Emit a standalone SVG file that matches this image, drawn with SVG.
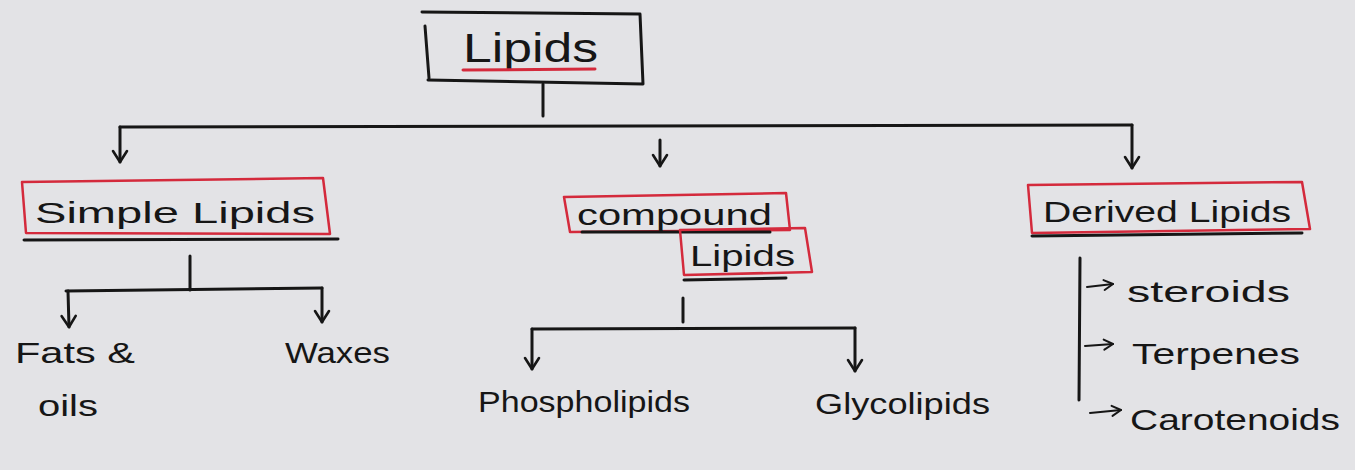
<svg xmlns="http://www.w3.org/2000/svg" width="1355" height="470" viewBox="0 0 1355 470">
<defs>
<style>
.bg{fill:#e3e3e6}
.t{font-family:"Liberation Sans","DejaVu Sans",sans-serif;fill:#161616;font-size:30px}
.big{font-size:40px}
.ink{fill:none;stroke:#161616;stroke-width:3;stroke-linecap:round;stroke-linejoin:round}
.thin{stroke-width:2}
.red{fill:none;stroke:#d42a3c;stroke-width:2.5;stroke-linejoin:round}
.redu{fill:none;stroke:#d42a3c;stroke-width:3;stroke-linecap:round}
</style>
<marker id="v" viewBox="0 0 16 18" refX="14" refY="9" markerWidth="16" markerHeight="18" markerUnits="userSpaceOnUse" orient="auto">
<path d="M3 2 L14 9 L3 16" fill="none" stroke="#161616" stroke-width="2.6" stroke-linecap="round" stroke-linejoin="round"/>
</marker>
<marker id="h" viewBox="0 0 14 14" refX="12" refY="7" markerWidth="14" markerHeight="14" markerUnits="userSpaceOnUse" orient="auto">
<path d="M3 2 L12 7 L3 12" fill="none" stroke="#161616" stroke-width="2" stroke-linecap="round" stroke-linejoin="round"/>
</marker>
</defs>
<rect class="bg" x="0" y="0" width="1355" height="470"/>

<g id="connectors">
<path class="ink" d="M543 84 L543 116"/>
<path class="ink" d="M120 127 L1132 125"/>
<path class="ink" d="M120 127 L120 162" marker-end="url(#v)"/>
<path class="ink" d="M660 140 L660 166" marker-end="url(#v)"/>
<path class="ink" d="M1132 125 L1132 168" marker-end="url(#v)"/>
<path class="ink" d="M190 256 L190 290"/>
<path class="ink" d="M66 291 L322 288"/>
<path class="ink" d="M68 291 L69 327" marker-end="url(#v)"/>
<path class="ink" d="M322 288 L322 322" marker-end="url(#v)"/>
<path class="ink" d="M683 298 L683 322"/>
<path class="ink" d="M532 329 L855 328"/>
<path class="ink" d="M532 329 L532 369" marker-end="url(#v)"/>
<path class="ink" d="M855 328 L855 371" marker-end="url(#v)"/>
<path class="ink" d="M1080 258 L1079 400"/>
<path class="ink thin" d="M1087 287 L1113 284" marker-end="url(#h)"/>
<path class="ink thin" d="M1085 346 L1113 344" marker-end="url(#h)"/>
<path class="ink thin" d="M1090 413 L1121 410" marker-end="url(#h)"/>
</g>

<g id="node-lipids">
<path class="ink" d="M422 12 L640 14 L643 84 L428 80"/>
<path class="ink" d="M425 26 L429 78"/>
<text class="t big" x="463" y="62" textLength="135" lengthAdjust="spacingAndGlyphs">Lipids</text>
<path class="redu" d="M463 70 L595 69"/>
</g>

<g id="node-simple">
<path class="red" d="M22 182 L323 178 L330 234 L26 233 Z"/>
<text class="t" x="35" y="223" textLength="280" lengthAdjust="spacingAndGlyphs">Simple Lipids</text>
<path class="ink" d="M24 240 L338 239"/>
</g>

<g id="node-compound">
<path class="red" d="M564 197 L786 193 L790 230 L570 232 Z"/>
<text class="t" x="577" y="225" textLength="195" lengthAdjust="spacingAndGlyphs">compound</text>
<path class="ink" d="M582 232 L770 232"/>
<path class="red" d="M680 230 L805 228 L812 272 L684 275 Z"/>
<text class="t" x="690" y="266" textLength="105" lengthAdjust="spacingAndGlyphs">Lipids</text>
<path class="ink" d="M684 280 L786 278"/>
</g>

<g id="node-derived">
<path class="red" d="M1028 185 L1302 182 L1310 229 L1032 233 Z"/>
<text class="t" x="1043" y="222" textLength="248" lengthAdjust="spacingAndGlyphs">Derived Lipids</text>
<path class="ink" d="M1032 236 L1302 233"/>
</g>

<g id="node-fats">
<text class="t" x="15" y="363" textLength="120" lengthAdjust="spacingAndGlyphs">Fats &amp;</text>
<text class="t" x="38" y="416" textLength="60" lengthAdjust="spacingAndGlyphs">oils</text>
</g>

<g id="node-waxes">
<text class="t" x="285" y="363" textLength="105" lengthAdjust="spacingAndGlyphs">Waxes</text>
</g>

<g id="node-phospholipids">
<text class="t" x="478" y="412" textLength="212" lengthAdjust="spacingAndGlyphs">Phospholipids</text>
</g>

<g id="node-glycolipids">
<text class="t" x="815" y="414" textLength="175" lengthAdjust="spacingAndGlyphs">Glycolipids</text>
</g>

<g id="node-steroids">
<text class="t" x="1127" y="302" textLength="163" lengthAdjust="spacingAndGlyphs">steroids</text>
</g>

<g id="node-terpenes">
<text class="t" x="1132" y="364" textLength="168" lengthAdjust="spacingAndGlyphs">Terpenes</text>
</g>

<g id="node-carotenoids">
<text class="t" x="1130" y="430" textLength="210" lengthAdjust="spacingAndGlyphs">Carotenoids</text>
</g>
</svg>
